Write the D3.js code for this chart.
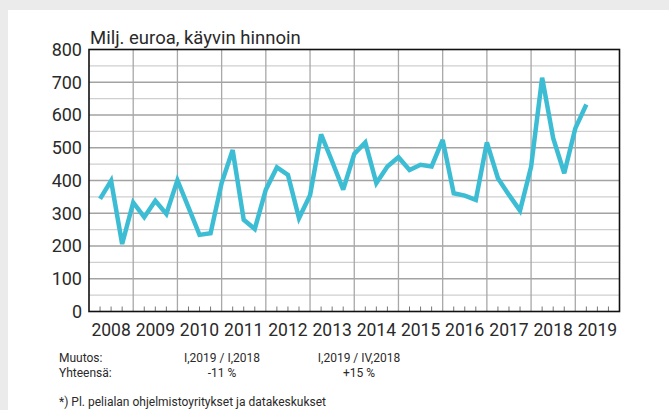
<!DOCTYPE html>
<html>
<head>
    <meta charset="utf-8">
    <script src="https://d3js.org/d3.v7.min.js"></script>
    <style>
        body { margin: 0; background: #ebebeb; }
        svg { display: block; font-family: Roboto, sans-serif; }
    </style>
</head>
<body>
    <div id="chart"></div>
    <script>
        // quarterly values, 2008 Q1 .. 2019 Q1 (milj. euroa)
        const startYear = 2008
        const values = [
            344, 399, 206, 333,
            288, 338, 298, 401,
            318, 234, 239, 392,
            493, 280, 252, 372,
            440, 417, 285, 355,
            541, 458, 372, 481,
            516, 392, 443, 471,
            432, 448, 443, 524,
            361, 354, 341, 516,
            407, 356, 308, 442,
            714, 529, 422, 559,
            632
        ]
        const years = d3.range(2008, 2020)
        const yTicks = d3.range(0, 801, 100)
        const yMinor = d3.range(50, 800, 100)
        const title = "Milj. euroa, käyvin hinnoin"
        const noteRows = [
            ["Muutos:", "I,2019 / I,2018", "I,2019 / IV,2018"],
            ["Yhteensä:", "-11 %", "+15 %"]
        ]
        const footnote = "*) Pl. pelialan ohjelmistoyritykset ja datakeskukset"

        const width = 669, height = 410
        const m = { left: 89, top: 49.5, right: 619.5, bottom: 311.5 }

        const svg = d3.select("#chart").append("svg")
            .attr("width", width)
            .attr("height", height)

        // white panel
        svg.append("rect")
            .attr("x", 8).attr("y", 10)
            .attr("width", width - 8).attr("height", height - 10)
            .attr("fill", "#fff")

        const x = d3.scaleLinear().domain([2008, 2020]).range([m.left, m.right])
        const y = d3.scaleLinear().domain([0, 800]).range([m.bottom, m.top])

        // minor horizontal grid (50s)
        svg.append("g").selectAll("line")
            .data(yMinor)
            .join("line")
            .attr("x1", m.left).attr("x2", m.right)
            .attr("y1", d => y(d)).attr("y2", d => y(d))
            .attr("stroke", "#cfcfcf").attr("stroke-width", 1.3)

        // major horizontal grid
        svg.append("g").selectAll("line")
            .data(yTicks.slice(1, -1))
            .join("line")
            .attr("x1", m.left).attr("x2", m.right)
            .attr("y1", d => y(d)).attr("y2", d => y(d))
            .attr("stroke", "#a3a3a3").attr("stroke-width", 1.3)

        // year grid
        svg.append("g").selectAll("line")
            .data(years.slice(1))
            .join("line")
            .attr("x1", d => x(d)).attr("x2", d => x(d))
            .attr("y1", m.top).attr("y2", m.bottom)
            .attr("stroke", "#a8a8a8").attr("stroke-width", 1.3)

        // quarter ticks
        const qTicks = []
        years.forEach(yr => [0.25, 0.5, 0.75].forEach(q => qTicks.push(yr + q)))
        svg.append("g").selectAll("line")
            .data(qTicks)
            .join("line")
            .attr("x1", d => x(d)).attr("x2", d => x(d))
            .attr("y1", m.bottom - 5).attr("y2", m.bottom)
            .attr("stroke", "#777").attr("stroke-width", 1)

        // frame
        svg.append("rect")
            .attr("x", m.left).attr("y", m.top)
            .attr("width", m.right - m.left).attr("height", m.bottom - m.top)
            .attr("fill", "none").attr("stroke", "#111").attr("stroke-width", 1.6)

        // y labels
        svg.append("g").selectAll("text")
            .data(yTicks)
            .join("text")
            .attr("x", 82).attr("y", d => y(d))
            .attr("dy", "0.36em")
            .attr("text-anchor", "end")
            .attr("font-size", 18)
            .attr("fill", "#2a2a2a")
            .text(d => d)

        // year labels
        svg.append("g").selectAll("text")
            .data(years)
            .join("text")
            .attr("x", d => x(d + 0.5)).attr("y", 336)
            .attr("text-anchor", "middle")
            .attr("font-size", 17.5)
            .attr("fill", "#2a2a2a")
            .text(d => d)

        svg.append("text")
            .attr("x", 90).attr("y", 44)
            .attr("font-size", 18.5)
            .attr("fill", "#2a2a2a")
            .text(title)

        // the line
        const line = d3.line()
            .x((d, i) => x(startYear + (i + 1) / 4))
            .y(d => y(d))
        svg.append("path")
            .datum(values)
            .attr("d", line)
            .attr("fill", "none")
            .attr("stroke", "#3dbdd4")
            .attr("stroke-width", 4.5)
            .attr("stroke-linejoin", "miter")
            .attr("stroke-miterlimit", 3)

        // notes under the chart
        const colX = [59, 222, 359]
        const anchors = ["start", "middle", "middle"]
        noteRows.forEach((row, r) => {
            row.forEach((t, c) => {
                svg.append("text")
                    .attr("x", colX[c]).attr("y", 362 + r * 15)
                    .attr("text-anchor", anchors[c])
                    .attr("font-size", 12)
                    .attr("fill", "#2a2a2a")
                    .text(t)
            })
        })

        svg.append("text")
            .attr("x", 59).attr("y", 406)
            .attr("font-size", 12)
            .attr("fill", "#2a2a2a")
            .text(footnote)
    </script>
</body>
</html>
